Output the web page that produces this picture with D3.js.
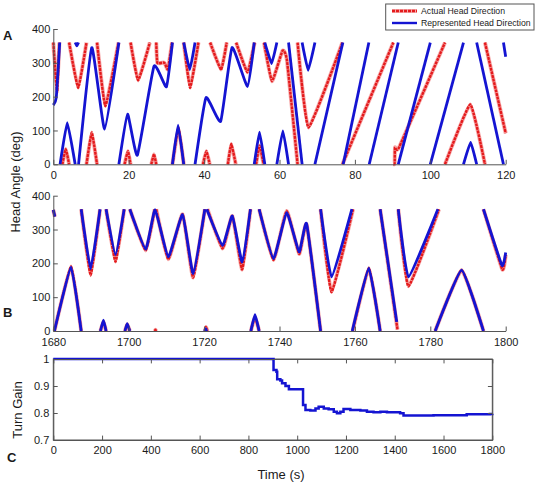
<!DOCTYPE html>
<html><head><meta charset="utf-8">
<script src="https://cdn.jsdelivr.net/npm/d3@7"></script>
<style>
body{margin:0;background:#fff}
text{font-family:Arial,"Liberation Sans",sans-serif}
</style>
</head><body>
<svg id="chart" width="537" height="486"></svg>
<script>
// ---------- DATA ----------
// Panel A (t = 0..120 s): head angle (deg), segments split where the angle wraps at 0/360
const actualA = [
  [[0,360],[1.0,212],[1.6,360]],
  [[2.4,0],[3.3,45],[4.2,0]],
  [[4.2,360],[6.6,226],[8.8,360]],
  [[8.8,0],[10.2,94],[11.6,0]],
  [[11.6,360],[13.8,172],[17.3,360]],
  [[18.9,0],[19.8,39],[20.5,0]],
  [[20.5,360],[22.5,248],[25.6,360]],
  [[26.0,0],[26.7,30],[27.3,0]],
  [[27.3,360],[27.6,300],[29.2,301],[29.6,298],[30.4,281],[31.5,360]],
  [[31.6,0],[33.2,108],[34.6,0]],
  [[34.6,360],[36.3,226],[38.5,360]],
  [[39.7,0],[40.6,39],[41.5,0]],
  [[41.6,360],[44.5,280],[46.0,360]],
  [[46.3,0],[47.2,60],[48.4,0]],
  [[48.5,360],[51.5,272],[53.4,360]],
  [[53.8,0],[54.7,55],[55.8,0]],
  [[55.9,360],[58.0,246],[60.8,336],[62.0,306],[64.8,0]],
  [[64.8,360],[67.7,109],[76.7,360]],
  [[76.7,0],[90.2,360]],
  [[90.2,0],[90.55,3],[90.65,50],[91.8,52],[103.9,360]],
  [[103.9,0],[110.6,177],[114.5,0]],
  [[114.5,360],[120,92]]
];
const representedA = [
  [[0,175],[0.8,198],[1.7,360]],
  [[1.8,0],[3.7,123],[5.8,0]],
  [[5.8,360],[6.25,350],[6.7,360]],
  [[6.7,0],[10.2,345],[13.6,104],[17.4,360]],
  [[17.4,0],[19.7,148],[22.3,27],[26.7,290],[30.0,229],[31.6,360]],
  [[31.6,0],[33.1,116],[34.6,0]],
  [[34.6,360],[36.2,280],[37.6,360]],
  [[37.6,0],[40.5,197],[44.4,127],[47.4,345],[51.5,230],[53.3,360]],
  [[53.3,0],[54.7,95],[56.1,0]],
  [[56.1,360],[57.9,298],[59.3,360]],
  [[59.3,0],[60.9,99],[62.4,0]],
  [[62.4,360],[66.0,0]],
  [[66.0,360],[67.6,278],[69.4,360]],
  [[69.4,0],[76.8,360]],
  [[76.9,0],[83.7,360]],
  [[83.8,0],[91.5,360]],
  [[91.5,0],[100.0,360]],
  [[100.0,0],[108.8,360]],
  [[108.8,0],[110.7,65],[112.3,0]],
  [[112.3,360],[119.4,0]],
  [[119.4,360],[120,318]]
];
// Panel B (t = 1680..1800 s)
const actualB = [
  [[1680,358],[1680.4,338]],
  [[1680.3,0],[1684.7,191],[1687.4,0]],
  [[1687.4,360],[1689.9,165],[1692.4,360]],
  [[1692.5,0],[1693.3,28],[1694.0,0]],
  [[1694.0,360],[1696.5,205],[1698.8,360]],
  [[1699.0,0],[1699.6,20],[1700.3,0]],
  [[1700.3,360],[1704.5,238],[1706.9,360]],
  [[1706.9,0],[1707.1,4],[1707.3,0]],
  [[1707.3,360],[1710.5,212],[1714.3,345],[1717.1,158],[1720.2,360]],
  [[1720.2,0],[1720.5,12],[1720.9,0]],
  [[1720.9,360],[1724.9,244],[1727.5,340],[1730.1,182],[1732.3,360]],
  [[1732.4,0],[1733.5,42],[1734.6,0]],
  [[1734.6,360],[1738.4,210],[1741.9,355],[1745.2,228],[1747.2,315],[1750.9,0]],
  [[1750.9,360],[1753.8,115],[1759.5,360]],
  [[1759.4,0],[1763.7,186],[1766.7,0]],
  [[1766.7,360],[1771.3,4]],
  [[1771.5,360],[1774.2,132],[1782.3,360]],
  [[1781.3,0],[1788.3,180],[1794.1,0]],
  [[1794.1,360],[1799.1,182],[1800,225]]
];
const representedB = [
  [[1680,358],[1680.4,338]],
  [[1680.3,0],[1684.7,189],[1687.4,0]],
  [[1687.4,360],[1689.9,184],[1692.4,360]],
  [[1692.5,0],[1693.3,32],[1694.0,0]],
  [[1694.0,360],[1696.5,226],[1698.8,360]],
  [[1699.0,0],[1699.6,22],[1700.3,0]],
  [[1700.3,360],[1704.5,242],[1707.0,358],[1710.5,219],[1714.3,344],[1717.1,170],[1720.2,360]],
  [[1720.1,0],[1720.4,7],[1720.7,0]],
  [[1720.7,360],[1724.9,253],[1727.5,340],[1730.1,204],[1732.3,360]],
  [[1732.4,0],[1733.5,48],[1734.6,0]],
  [[1734.6,360],[1738.4,214],[1741.9,350],[1745.2,234],[1747.2,317],[1750.9,0]],
  [[1750.9,360],[1753.8,160],[1759.2,360]],
  [[1759.3,0],[1763.7,186],[1766.7,0]],
  [[1766.7,360],[1771.1,27]],
  [[1771.5,360],[1774.2,160],[1782.0,360]],
  [[1781.3,0],[1788.3,180],[1794.1,0]],
  [[1794.1,360],[1799.0,194],[1800,232]]
];
// Panel C: turn gain over the whole run
const gainTime = [0,900,903,915,918,931,938,952,966,1020,1024,1034,1054,1075,1088,1109,1129,1150,1163,1177,1190,1218,1259,1286,1313,1341,1368,1422,1436,1491,1559,1695,1790,1800];
const gainValue = [1,1,0.959,0.953,0.925,0.920,0.910,0.900,0.888,0.888,0.830,0.811,0.809,0.817,0.823,0.817,0.814,0.805,0.799,0.805,0.815,0.811,0.809,0.805,0.803,0.805,0.803,0.799,0.791,0.791,0.792,0.795,0.796,0.797];

const ticksA = [0,20,40,60,80,100,120];
const ticksB = [1680,1700,1720,1740,1760,1780,1800];
const ticksAngle = [0,100,200,300,400];
const ticksCx = [0,200,400,600,800,1000,1200,1400,1600,1800];
const ticksCy = [0.7,0.8,0.9,1];
const legendLabels = ["Actual Head Direction","Represented Head Direction"];

// ---------- DRAWING ----------
const svg = d3.select("#chart");
const AX = "#555", TXT = "#1a1a1a";
const BLUE = "#1414d2", RED = "#e41a1c";
const fmtInt = d3.format("d");

function styleAxis(g){
  g.selectAll("path,line").attr("stroke",AX).attr("stroke-width",1);
  g.selectAll("text").attr("fill",TXT).style("font-size","11px").style("font-family","Arial, 'Liberation Sans', sans-serif");
}

function anglePanel(top, bottom, x0, x1, tickVals, actual, represented){
  const x = d3.scaleLinear().domain([x0,x1]).range([53.3,505.7]);
  const y = d3.scaleLinear().domain([0,400]).range([bottom,top]);
  const line = d3.line().x(d=>x(d[0])).y(d=>y(d[1])).curve(d3.curveCardinal.tension(0.6));
  const g = svg.append("g");
  actual.forEach(seg=>{
    g.append("path").attr("d",line(seg)).attr("fill","none")
      .attr("stroke","#f6a8a8").attr("stroke-width",4).attr("stroke-linejoin","round");
    g.append("path").attr("d",line(seg)).attr("fill","none")
      .attr("stroke",RED).attr("stroke-width",2.4).attr("stroke-dasharray","3,0.7");
  });
  represented.forEach(seg=>{
    g.append("path").attr("d",line(seg)).attr("fill","none")
      .attr("stroke",BLUE).attr("stroke-width",2.8).attr("stroke-linejoin","round");
  });
  const xa = svg.append("g").attr("transform",`translate(0,${bottom})`)
    .call(d3.axisBottom(x).tickValues(tickVals).tickFormat(fmtInt).tickSizeInner(-4.5).tickSizeOuter(0).tickPadding(7));
  styleAxis(xa);
  const ya = svg.append("g").attr("transform",`translate(53.3,0)`)
    .call(d3.axisLeft(y).tickValues(ticksAngle).tickFormat(fmtInt).tickSizeInner(-4.5).tickSizeOuter(0).tickPadding(3));
  styleAxis(ya);
}

anglePanel(29, 164.3, 0, 120, ticksA, actualA, representedA);
anglePanel(195.7, 331, 1680, 1800, ticksB, actualB, representedB);

// Panel C
{
  const x = d3.scaleLinear().domain([0,1800]).range([53.3,492.3]);
  const y = d3.scaleLinear().domain([0.7,1]).range([440,359]);
  const pts = gainTime.map((t,i)=>[t,gainValue[i]]);
  svg.append("rect").attr("x",53.3).attr("y",359).attr("width",492.3-53.3).attr("height",81)
    .attr("fill","none").attr("stroke",AX);
  svg.append("path").attr("d",d3.line().x(d=>x(d[0])).y(d=>y(d[1])).curve(d3.curveStepAfter)(pts))
    .attr("fill","none").attr("stroke",BLUE).attr("stroke-width",2.5);
  const xa = svg.append("g").attr("transform","translate(0,440)")
    .call(d3.axisBottom(x).tickValues(ticksCx).tickFormat(fmtInt).tickSizeInner(-4.4).tickSizeOuter(0).tickPadding(6));
  styleAxis(xa);
  const xt = svg.append("g").attr("transform","translate(0,359)")
    .call(d3.axisTop(x).tickValues(ticksCx).tickSizeInner(-4.4).tickSizeOuter(0).tickFormat(""));
  styleAxis(xt);
  const ya = svg.append("g").attr("transform","translate(53.3,0)")
    .call(d3.axisLeft(y).tickValues(ticksCy).tickFormat(d=>d===1?"1":d3.format(".1f")(d)).tickSizeInner(-4.4).tickSizeOuter(0).tickPadding(4));
  styleAxis(ya);
  const yr = svg.append("g").attr("transform","translate(492.3,0)")
    .call(d3.axisRight(y).tickValues(ticksCy).tickSizeInner(-4.4).tickSizeOuter(0).tickFormat(""));
  styleAxis(yr);
}

// Labels
const lab = (txt,x,y,opts={})=>{
  const t = svg.append("text").attr("x",x).attr("y",y).text(txt)
    .attr("fill",TXT).style("font-size",(opts.size||13)+"px");
  if(opts.bold) t.style("font-weight","bold");
  if(opts.anchor) t.attr("text-anchor",opts.anchor);
  if(opts.rotate) t.attr("transform",`rotate(-90,${x},${y})`);
  return t;
};
lab("A",3,40,{bold:true,size:13});
lab("B",3,317,{bold:true,size:13});
lab("C",7,462,{bold:true,size:13});
lab("Head Angle (deg)",20,182,{anchor:"middle",rotate:true});
lab("Turn Gain",22,410,{anchor:"middle",rotate:true});
lab("Time (s)",281,479,{anchor:"middle"});

// Legend
{
  const lg = svg.append("g");
  lg.append("rect").attr("x",385.7).attr("y",4).attr("width",148.3).attr("height",26)
    .attr("fill","#fff").attr("stroke","#555");
  const ys = [11,23];
  lg.append("line").attr("x1",392).attr("x2",417).attr("y1",ys[0]).attr("y2",ys[0])
    .attr("stroke","#f6a8a8").attr("stroke-width",4);
  lg.append("line").attr("x1",392).attr("x2",417).attr("y1",ys[0]).attr("y2",ys[0])
    .attr("stroke",RED).attr("stroke-width",2.4).attr("stroke-dasharray","3,1");
  lg.append("line").attr("x1",392).attr("x2",417).attr("y1",ys[1]).attr("y2",ys[1])
    .attr("stroke",BLUE).attr("stroke-width",2.4);
  legendLabels.forEach((s,i)=>{
    lg.append("text").attr("x",421).attr("y",ys[i]+3.2).text(s)
      .attr("fill",TXT).style("font-size","8.7px");
  });
}
</script>
</body></html>
